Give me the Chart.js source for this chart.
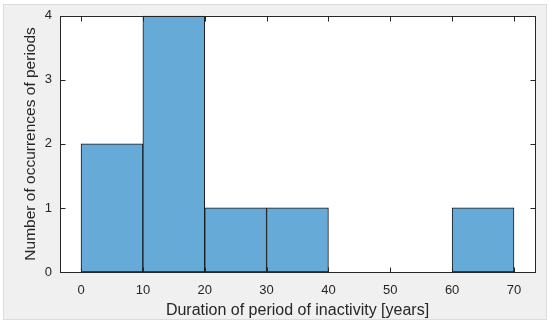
<!DOCTYPE html>
<html><head><meta charset="utf-8">
<script src="https://cdn.jsdelivr.net/npm/chart.js@4/dist/chart.umd.min.js"></script>
<style>
html,body{margin:0;padding:0;background:#fff;width:550px;height:323px;overflow:hidden;}
#panel{position:absolute;left:3px;top:4px;width:542px;height:314px;background:#f0f0f0;border:1px solid #dcdcdc;}
#wrap{position:absolute;left:0;top:0;width:550px;height:323px;}
</style></head><body>
<div id="panel"></div>
<div id="wrap"><canvas id="c" width="550" height="323"></canvas></div>
<script>
// Histogram bins (bin centres) and counts
const binCenters = [5, 15, 25, 35, 45, 55, 65];
const counts = [2, 4, 1, 1, 0, 0, 1];
const xTicks = [0, 10, 20, 30, 40, 50, 60, 70];
const yTicks = [0, 1, 2, 3, 4];
const xTitle = 'Duration of period of inactivity [years]';
const yTitle = 'Number of occurrences of periods';

const axisColor = '#262626';
const fontFam = '"Liberation Sans", Arial, Helvetica, sans-serif';

const framePlugin = {
  id: 'frame',
  beforeDraw(chart) {
    const {ctx, chartArea: a} = chart;
    ctx.save();
    ctx.fillStyle = '#ffffff';
    ctx.fillRect(a.left, a.top, a.right - a.left, a.bottom - a.top);
    ctx.restore();
  },
  afterDatasetsDraw(chart) {
    const {ctx, chartArea: a, scales} = chart;
    ctx.save();
    ctx.strokeStyle = axisColor;
    ctx.lineWidth = 1;
    const L = Math.round(a.left) + 0.5, R = Math.round(a.right) + 0.5;
    const T = Math.round(a.top) + 0.5, B = Math.round(a.bottom) + 0.5;
    ctx.strokeRect(L, T, R - L, B - T);
    const tl = 5;
    ctx.beginPath();
    xTicks.forEach(v => {
      const px = Math.round(scales.x.getPixelForValue(v)) + 0.5;
      ctx.moveTo(px, B); ctx.lineTo(px, B - tl);
      ctx.moveTo(px, T); ctx.lineTo(px, T + tl);
    });
    yTicks.forEach(v => {
      const py = Math.round(scales.y.getPixelForValue(v)) + 0.5;
      ctx.moveTo(L, py); ctx.lineTo(L + tl, py);
      ctx.moveTo(R, py); ctx.lineTo(R - tl, py);
    });
    ctx.stroke();
    ctx.restore();
  }
};

new Chart(document.getElementById('c'), {
  type: 'bar',
  data: {
    datasets: [{
      data: binCenters.map((x, i) => ({x: x, y: counts[i]})),
      backgroundColor: 'rgb(102,170,215)',
      borderColor: '#1a1a1a',
      borderWidth: 1,
      borderSkipped: false,
      barPercentage: 1,
      categoryPercentage: 1
    }]
  },
  options: {
    responsive: false,
    animation: false,
    events: [],
    layout: {padding: {left: 0, right: 15, top: 14, bottom: 0}},
    plugins: {legend: {display: false}, tooltip: {enabled: false}},
    scales: {
      x: {
        type: 'linear',
        min: -3.4, max: 73.4,
        offset: false,
        afterBuildTicks: s => { s.ticks = xTicks.map(v => ({value: v})); },
        afterFit: s => { s.height = 51; },
        grid: {display: false, drawTicks: false},
        border: {display: false},
        ticks: {color: axisColor, font: {family: fontFam, size: 13}, padding: 11, maxRotation: 0, autoSkip: false},
        title: {display: true, text: xTitle, color: axisColor, font: {family: fontFam, size: 16}, padding: {top: 2, bottom: 3}}
      },
      y: {
        min: 0, max: 4,
        afterBuildTicks: s => { s.ticks = yTicks.map(v => ({value: v})); },
        afterFit: s => { s.width = 60; },
        grid: {display: false, drawTicks: false},
        border: {display: false},
        ticks: {color: axisColor, font: {family: fontFam, size: 13}, padding: 8},
        title: {display: true, text: yTitle, color: axisColor, font: {family: fontFam, size: 15.5}, padding: {top: 21, bottom: 4}}
      }
    }
  },
  plugins: [framePlugin]
});
</script>
</body></html>
